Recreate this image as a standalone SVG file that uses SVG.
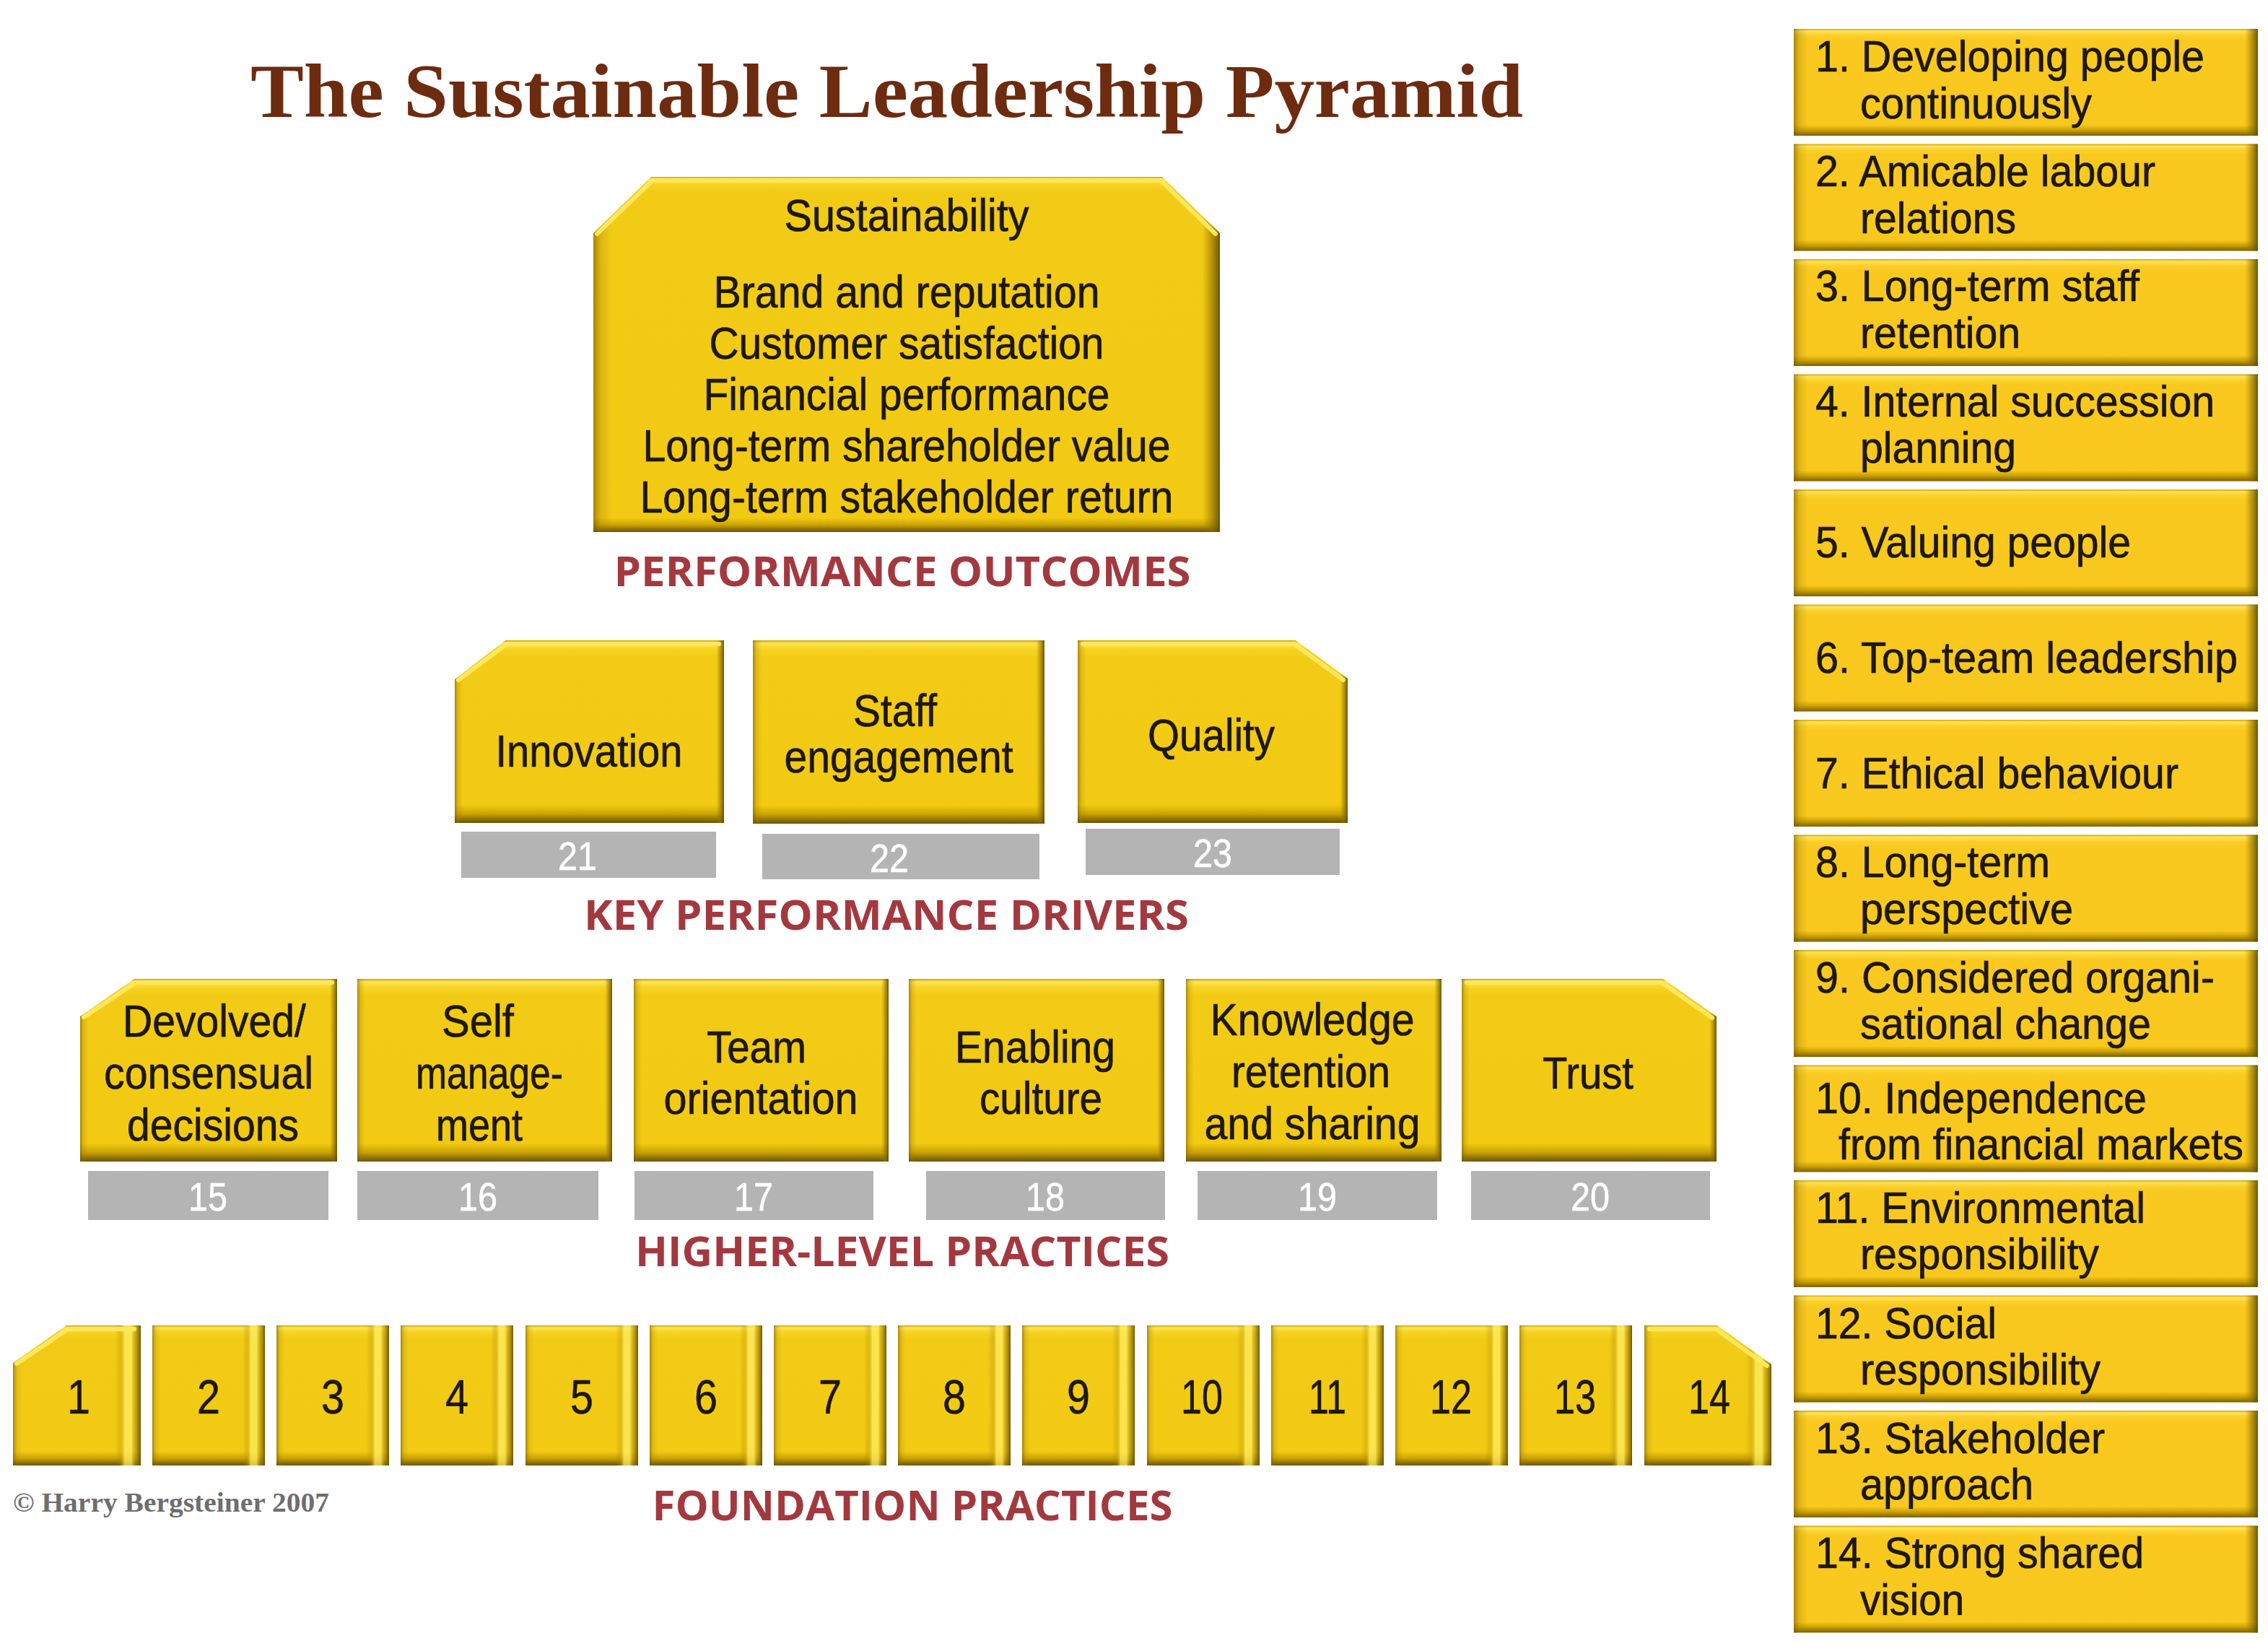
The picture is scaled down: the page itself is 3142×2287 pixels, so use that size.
<svg xmlns="http://www.w3.org/2000/svg" width="3142" height="2287" viewBox="0 0 3142 2287">
<defs>
<linearGradient id="gv" x1="0" y1="0" x2="0" y2="1">
<stop offset="0" stop-color="#c9a300"/>
<stop offset="0.015" stop-color="#fde452"/>
<stop offset="0.05" stop-color="#f6d322"/>
<stop offset="0.09" stop-color="#f2cb16"/>
<stop offset="0.9" stop-color="#f2ca14"/>
<stop offset="0.95" stop-color="#caa300"/>
<stop offset="0.98" stop-color="#8f7200"/>
<stop offset="1" stop-color="#6a5400"/>
</linearGradient>
<linearGradient id="gvBig" x1="0" y1="0" x2="0" y2="1">
<stop offset="0" stop-color="#c9a300"/>
<stop offset="0.006" stop-color="#fde452"/>
<stop offset="0.02" stop-color="#f6d322"/>
<stop offset="0.04" stop-color="#f2cb16"/>
<stop offset="0.96" stop-color="#f2ca14"/>
<stop offset="0.98" stop-color="#caa300"/>
<stop offset="0.992" stop-color="#8f7200"/>
<stop offset="1" stop-color="#6a5400"/>
</linearGradient>
<linearGradient id="gvR" x1="0" y1="0" x2="0" y2="1">
<stop offset="0" stop-color="#d2a600"/>
<stop offset="0.02" stop-color="#ffe25a"/>
<stop offset="0.06" stop-color="#fbd02a"/>
<stop offset="0.1" stop-color="#f9c91f"/>
<stop offset="0.9" stop-color="#f8c81e"/>
<stop offset="0.95" stop-color="#c99f00"/>
<stop offset="1" stop-color="#7a6000"/>
</linearGradient>
<linearGradient id="gh" x1="0" y1="0" x2="1" y2="0">
<stop offset="0" stop-color="#6e5500" stop-opacity="0.6"/>
<stop offset="0.012" stop-color="#9a7a00" stop-opacity="0.25"/>
<stop offset="0.03" stop-color="#9a7a00" stop-opacity="0"/>
<stop offset="0.972" stop-color="#9a7a00" stop-opacity="0"/>
<stop offset="0.986" stop-color="#8a6c00" stop-opacity="0.55"/>
<stop offset="1" stop-color="#5e4a00" stop-opacity="0.9"/>
</linearGradient>
<linearGradient id="ghF" x1="0" y1="0" x2="1" y2="0">
<stop offset="0" stop-color="#6e5500" stop-opacity="0.6"/>
<stop offset="0.03" stop-color="#9a7a00" stop-opacity="0.2"/>
<stop offset="0.07" stop-color="#9a7a00" stop-opacity="0"/>
<stop offset="0.8" stop-color="#9a7a00" stop-opacity="0"/>
<stop offset="0.84" stop-color="#b08c00" stop-opacity="0.3"/>
<stop offset="0.875" stop-color="#ffec60" stop-opacity="0.75"/>
<stop offset="0.925" stop-color="#ffec60" stop-opacity="0.75"/>
<stop offset="0.96" stop-color="#a88600" stop-opacity="0.55"/>
<stop offset="1" stop-color="#5e4a00" stop-opacity="0.9"/>
</linearGradient>
</defs>
<style>
.f{fill:url(#gv)}
.fb{fill:url(#gvBig)}
.fr{fill:url(#gvR)}
.e{fill:url(#gh)}
.ef{fill:url(#ghF)}
.hi{fill:none;stroke:#ffe75c;stroke-width:6;stroke-linecap:round;stroke-linejoin:round}
.bar{fill:#b4b4b4}
.t{font-family:"Liberation Sans",Arial,sans-serif;font-size:63px;fill:#1d1803;stroke:#1d1803;stroke-width:0.7px;text-anchor:middle}
.rt{font-family:"Liberation Sans",Arial,sans-serif;font-size:61px;fill:#1d1803;stroke:#1d1803;stroke-width:0.7px}
.n{font-family:"Liberation Sans",Arial,sans-serif;font-size:56px;fill:#ffffff;stroke:#ffffff;stroke-width:0.6px;text-anchor:middle}
.fn{font-family:"Liberation Sans",Arial,sans-serif;font-size:66px;fill:#1d1803;stroke:#1d1803;stroke-width:0.6px;text-anchor:middle}
.lbl{font-family:"Open Sans","Liberation Sans",sans-serif;font-weight:700;font-size:58px;fill:#a3393f;text-anchor:middle}
.title{font-family:"Liberation Serif","Times New Roman",serif;font-weight:700;font-size:106px;fill:#6d2b10}
.copy{font-family:"Liberation Serif","Times New Roman",serif;font-weight:700;font-size:37px;fill:#6e6e6e}
</style>
<rect x="0" y="0" width="3142" height="2287" fill="#ffffff"/>

<g id="title">
<text class="title" x="347" y="162" textLength="1763" lengthAdjust="spacingAndGlyphs">The Sustainable Leadership Pyramid</text>
</g>

<g id="connectors"></g>

<!-- Performance outcomes -->
<g id="node-outcomes">
<path class="fb" d="M822,323 L902,245 L1610,245 L1690,323 L1690,737 L822,737 Z"/>
<path class="e" d="M822,323 L902,245 L1610,245 L1690,323 L1690,737 L822,737 Z"/>
<path class="hi" d="M827,324 L904,250 L1608,250 L1684,324"/>
<text class="t" x="1256" y="320" textLength="339" lengthAdjust="spacingAndGlyphs">Sustainability</text>
<text class="t" x="1256" y="426" textLength="535" lengthAdjust="spacingAndGlyphs">Brand and reputation</text>
<text class="t" x="1256" y="497" textLength="547" lengthAdjust="spacingAndGlyphs">Customer satisfaction</text>
<text class="t" x="1256" y="568" textLength="563" lengthAdjust="spacingAndGlyphs">Financial performance</text>
<text class="t" x="1256" y="639" textLength="731" lengthAdjust="spacingAndGlyphs">Long-term shareholder value</text>
<text class="t" x="1256" y="710" textLength="739" lengthAdjust="spacingAndGlyphs">Long-term stakeholder return</text>
</g>
<text class="lbl" x="1250" y="812" textLength="799" lengthAdjust="spacingAndGlyphs">PERFORMANCE OUTCOMES</text>

<!-- Key performance drivers -->
<g id="node-21">
<path class="f" d="M630,941 L700,887 L1003,887 L1003,1140 L630,1140 Z"/>
<path class="e" d="M630,941 L700,887 L1003,887 L1003,1140 L630,1140 Z"/>
<path class="hi" d="M635,942 L702,892 L996,892"/>
<text class="t" x="816" y="1062" textLength="259" lengthAdjust="spacingAndGlyphs">Innovation</text>
<rect class="bar" x="639" y="1152" width="353" height="64"/>
<text class="n" x="800" y="1205" textLength="54" lengthAdjust="spacingAndGlyphs">21</text>
</g>
<g id="node-22">
<path class="f" d="M1043,887 L1447,887 L1447,1141 L1043,1141 Z"/>
<path class="e" d="M1043,887 L1447,887 L1447,1141 L1043,1141 Z"/>
<text class="t" x="1240" y="1006" textLength="116" lengthAdjust="spacingAndGlyphs">Staff</text>
<text class="t" x="1245" y="1070" textLength="317" lengthAdjust="spacingAndGlyphs">engagement</text>
<rect class="bar" x="1056" y="1155" width="384" height="63"/>
<text class="n" x="1232" y="1208" textLength="54" lengthAdjust="spacingAndGlyphs">22</text>
</g>
<g id="node-23">
<path class="f" d="M1493,887 L1795,887 L1867,940 L1867,1140 L1493,1140 Z"/>
<path class="e" d="M1493,887 L1795,887 L1867,940 L1867,1140 L1493,1140 Z"/>
<path class="hi" d="M1500,892 L1793,892 L1861,942"/>
<text class="t" x="1678" y="1040" textLength="176" lengthAdjust="spacingAndGlyphs">Quality</text>
<rect class="bar" x="1504" y="1148" width="352" height="64"/>
<text class="n" x="1680" y="1201" textLength="54" lengthAdjust="spacingAndGlyphs">23</text>
</g>
<text class="lbl" x="1228" y="1288" textLength="838" lengthAdjust="spacingAndGlyphs">KEY PERFORMANCE DRIVERS</text>

<!-- Higher-level practices -->
<g id="node-15">
<path class="f" d="M111,1408 L186,1356 L467,1356 L467,1609 L111,1609 Z"/>
<path class="e" d="M111,1408 L186,1356 L467,1356 L467,1609 L111,1609 Z"/>
<path class="hi" d="M116,1409 L188,1361 L460,1361"/>
<text class="t" x="297" y="1436" textLength="254" lengthAdjust="spacingAndGlyphs">Devolved/</text>
<text class="t" x="289" y="1508" textLength="290" lengthAdjust="spacingAndGlyphs">consensual</text>
<text class="t" x="295" y="1580" textLength="238" lengthAdjust="spacingAndGlyphs">decisions</text>
<rect class="bar" x="122" y="1622" width="333" height="68"/>
<text class="n" x="288" y="1677" textLength="54" lengthAdjust="spacingAndGlyphs">15</text>
</g>
<g id="node-16">
<path class="f" d="M495,1356 L848,1356 L848,1609 L495,1609 Z"/>
<path class="e" d="M495,1356 L848,1356 L848,1609 L495,1609 Z"/>
<text class="t" x="662" y="1436" textLength="100" lengthAdjust="spacingAndGlyphs">Self</text>
<text class="t" x="678" y="1508" textLength="204" lengthAdjust="spacingAndGlyphs">manage-</text>
<text class="t" x="664" y="1580" textLength="120" lengthAdjust="spacingAndGlyphs">ment</text>
<rect class="bar" x="495" y="1622" width="334" height="68"/>
<text class="n" x="662" y="1677" textLength="54" lengthAdjust="spacingAndGlyphs">16</text>
</g>
<g id="node-17">
<path class="f" d="M878,1356 L1231,1356 L1231,1609 L878,1609 Z"/>
<path class="e" d="M878,1356 L1231,1356 L1231,1609 L878,1609 Z"/>
<text class="t" x="1048" y="1472" textLength="138" lengthAdjust="spacingAndGlyphs">Team</text>
<text class="t" x="1054" y="1543" textLength="269" lengthAdjust="spacingAndGlyphs">orientation</text>
<rect class="bar" x="879" y="1622" width="331" height="68"/>
<text class="n" x="1044" y="1677" textLength="54" lengthAdjust="spacingAndGlyphs">17</text>
</g>
<g id="node-18">
<path class="f" d="M1259,1356 L1613,1356 L1613,1609 L1259,1609 Z"/>
<path class="e" d="M1259,1356 L1613,1356 L1613,1609 L1259,1609 Z"/>
<text class="t" x="1434" y="1472" textLength="222" lengthAdjust="spacingAndGlyphs">Enabling</text>
<text class="t" x="1442" y="1543" textLength="170" lengthAdjust="spacingAndGlyphs">culture</text>
<rect class="bar" x="1283" y="1622" width="331" height="68"/>
<text class="n" x="1448" y="1677" textLength="54" lengthAdjust="spacingAndGlyphs">18</text>
</g>
<g id="node-19">
<path class="f" d="M1643,1356 L1997,1356 L1997,1609 L1643,1609 Z"/>
<path class="e" d="M1643,1356 L1997,1356 L1997,1609 L1643,1609 Z"/>
<text class="t" x="1818" y="1434" textLength="283" lengthAdjust="spacingAndGlyphs">Knowledge</text>
<text class="t" x="1816" y="1506" textLength="220" lengthAdjust="spacingAndGlyphs">retention</text>
<text class="t" x="1818" y="1578" textLength="299" lengthAdjust="spacingAndGlyphs">and sharing</text>
<rect class="bar" x="1659" y="1622" width="332" height="68"/>
<text class="n" x="1825" y="1677" textLength="54" lengthAdjust="spacingAndGlyphs">19</text>
</g>
<g id="node-20">
<path class="f" d="M2025,1356 L2304,1356 L2378,1408 L2378,1609 L2025,1609 Z"/>
<path class="e" d="M2025,1356 L2304,1356 L2378,1408 L2378,1609 L2025,1609 Z"/>
<path class="hi" d="M2032,1361 L2302,1361 L2372,1410"/>
<text class="t" x="2200" y="1508" textLength="126" lengthAdjust="spacingAndGlyphs">Trust</text>
<rect class="bar" x="2038" y="1622" width="331" height="68"/>
<text class="n" x="2203" y="1677" textLength="54" lengthAdjust="spacingAndGlyphs">20</text>
</g>
<text class="lbl" x="1250" y="1754" textLength="740" lengthAdjust="spacingAndGlyphs">HIGHER-LEVEL PRACTICES</text>

<!-- Foundation practices -->
<g id="node-f1">
<path class="f" d="M18,1888 L92,1836 L195,1836 L195,2030 L18,2030 Z"/>
<path class="ef" d="M18,1888 L92,1836 L195,1836 L195,2030 L18,2030 Z"/>
<path class="hi" d="M23,1889 L94,1841 L186,1841"/>
<text class="fn" x="109" y="1958" textLength="32" lengthAdjust="spacingAndGlyphs">1</text>
</g>
<g id="node-f2"><path class="f" d="M211,1836 H367 V2030 H211 Z"/><path class="ef" d="M211,1836 H367 V2030 H211 Z"/><text class="fn" x="289" y="1958" textLength="32" lengthAdjust="spacingAndGlyphs">2</text></g>
<g id="node-f3"><path class="f" d="M383,1836 H539 V2030 H383 Z"/><path class="ef" d="M383,1836 H539 V2030 H383 Z"/><text class="fn" x="461" y="1958" textLength="32" lengthAdjust="spacingAndGlyphs">3</text></g>
<g id="node-f4"><path class="f" d="M555,1836 H711 V2030 H555 Z"/><path class="ef" d="M555,1836 H711 V2030 H555 Z"/><text class="fn" x="633" y="1958" textLength="32" lengthAdjust="spacingAndGlyphs">4</text></g>
<g id="node-f5"><path class="f" d="M728,1836 H884 V2030 H728 Z"/><path class="ef" d="M728,1836 H884 V2030 H728 Z"/><text class="fn" x="806" y="1958" textLength="32" lengthAdjust="spacingAndGlyphs">5</text></g>
<g id="node-f6"><path class="f" d="M900,1836 H1056 V2030 H900 Z"/><path class="ef" d="M900,1836 H1056 V2030 H900 Z"/><text class="fn" x="978" y="1958" textLength="32" lengthAdjust="spacingAndGlyphs">6</text></g>
<g id="node-f7"><path class="f" d="M1072,1836 H1228 V2030 H1072 Z"/><path class="ef" d="M1072,1836 H1228 V2030 H1072 Z"/><text class="fn" x="1150" y="1958" textLength="32" lengthAdjust="spacingAndGlyphs">7</text></g>
<g id="node-f8"><path class="f" d="M1244,1836 H1400 V2030 H1244 Z"/><path class="ef" d="M1244,1836 H1400 V2030 H1244 Z"/><text class="fn" x="1322" y="1958" textLength="32" lengthAdjust="spacingAndGlyphs">8</text></g>
<g id="node-f9"><path class="f" d="M1416,1836 H1572 V2030 H1416 Z"/><path class="ef" d="M1416,1836 H1572 V2030 H1416 Z"/><text class="fn" x="1494" y="1958" textLength="32" lengthAdjust="spacingAndGlyphs">9</text></g>
<g id="node-f10"><path class="f" d="M1589,1836 H1745 V2030 H1589 Z"/><path class="ef" d="M1589,1836 H1745 V2030 H1589 Z"/><text class="fn" x="1665" y="1958" textLength="58" lengthAdjust="spacingAndGlyphs">10</text></g>
<g id="node-f11"><path class="f" d="M1761,1836 H1917 V2030 H1761 Z"/><path class="ef" d="M1761,1836 H1917 V2030 H1761 Z"/><text class="fn" x="1839" y="1958" textLength="52" lengthAdjust="spacingAndGlyphs">11</text></g>
<g id="node-f12"><path class="f" d="M1933,1836 H2089 V2030 H1933 Z"/><path class="ef" d="M1933,1836 H2089 V2030 H1933 Z"/><text class="fn" x="2010" y="1958" textLength="58" lengthAdjust="spacingAndGlyphs">12</text></g>
<g id="node-f13"><path class="f" d="M2105,1836 H2261 V2030 H2105 Z"/><path class="ef" d="M2105,1836 H2261 V2030 H2105 Z"/><text class="fn" x="2182" y="1958" textLength="58" lengthAdjust="spacingAndGlyphs">13</text></g>
<g id="node-f14">
<path class="f" d="M2278,1836 L2379,1836 L2454,1890 L2454,2030 L2278,2030 Z"/>
<path class="ef" d="M2278,1836 L2379,1836 L2454,1890 L2454,2030 L2278,2030 Z"/>
<path class="hi" d="M2285,1841 L2377,1841 L2448,1892"/>
<text class="fn" x="2368" y="1958" textLength="58" lengthAdjust="spacingAndGlyphs">14</text>
</g>
<text class="lbl" x="1264" y="2106" textLength="721" lengthAdjust="spacingAndGlyphs">FOUNDATION PRACTICES</text>
<text class="copy" x="18" y="2094" textLength="438" lengthAdjust="spacingAndGlyphs">© Harry Bergsteiner 2007</text>

<!-- Right column legend -->
<g id="legend-1"><path class="fr" d="M2485,40 H3128 V188 H2485 Z"/><path class="e" d="M2485,40 H3128 V188 H2485 Z"/>
<text class="rt" x="2515" y="99" textLength="539" lengthAdjust="spacingAndGlyphs">1. Developing people</text>
<text class="rt" x="2577" y="164" textLength="321" lengthAdjust="spacingAndGlyphs">continuously</text></g>
<g id="legend-2"><path class="fr" d="M2485,199.5 H3128 V347.5 H2485 Z"/><path class="e" d="M2485,199.5 H3128 V347.5 H2485 Z"/>
<text class="rt" x="2515" y="258" textLength="471" lengthAdjust="spacingAndGlyphs">2. Amicable labour</text>
<text class="rt" x="2577" y="323" textLength="216" lengthAdjust="spacingAndGlyphs">relations</text></g>
<g id="legend-3"><path class="fr" d="M2485,359 H3128 V507 H2485 Z"/><path class="e" d="M2485,359 H3128 V507 H2485 Z"/>
<text class="rt" x="2515" y="417" textLength="449" lengthAdjust="spacingAndGlyphs">3. Long-term staff</text>
<text class="rt" x="2577" y="482" textLength="222" lengthAdjust="spacingAndGlyphs">retention</text></g>
<g id="legend-4"><path class="fr" d="M2485,518.5 H3128 V666.5 H2485 Z"/><path class="e" d="M2485,518.5 H3128 V666.5 H2485 Z"/>
<text class="rt" x="2515" y="577" textLength="553" lengthAdjust="spacingAndGlyphs">4. Internal succession</text>
<text class="rt" x="2577" y="641" textLength="216" lengthAdjust="spacingAndGlyphs">planning</text></g>
<g id="legend-5"><path class="fr" d="M2485,678 H3128 V826 H2485 Z"/><path class="e" d="M2485,678 H3128 V826 H2485 Z"/>
<text class="rt" x="2515" y="772" textLength="437" lengthAdjust="spacingAndGlyphs">5. Valuing people</text></g>
<g id="legend-6"><path class="fr" d="M2485,837.5 H3128 V985.5 H2485 Z"/><path class="e" d="M2485,837.5 H3128 V985.5 H2485 Z"/>
<text class="rt" x="2515" y="932" textLength="585" lengthAdjust="spacingAndGlyphs">6. Top-team leadership</text></g>
<g id="legend-7"><path class="fr" d="M2485,997 H3128 V1145 H2485 Z"/><path class="e" d="M2485,997 H3128 V1145 H2485 Z"/>
<text class="rt" x="2515" y="1092" textLength="503" lengthAdjust="spacingAndGlyphs">7. Ethical behaviour</text></g>
<g id="legend-8"><path class="fr" d="M2485,1156.5 H3128 V1304.5 H2485 Z"/><path class="e" d="M2485,1156.5 H3128 V1304.5 H2485 Z"/>
<text class="rt" x="2515" y="1215" textLength="325" lengthAdjust="spacingAndGlyphs">8. Long-term</text>
<text class="rt" x="2577" y="1280" textLength="295" lengthAdjust="spacingAndGlyphs">perspective</text></g>
<g id="legend-9"><path class="fr" d="M2485,1316 H3128 V1464 H2485 Z"/><path class="e" d="M2485,1316 H3128 V1464 H2485 Z"/>
<text class="rt" x="2515" y="1375" textLength="553" lengthAdjust="spacingAndGlyphs">9. Considered organi-</text>
<text class="rt" x="2577" y="1439" textLength="403" lengthAdjust="spacingAndGlyphs">sational change</text></g>
<g id="legend-10"><path class="fr" d="M2485,1475.5 H3128 V1623.5 H2485 Z"/><path class="e" d="M2485,1475.5 H3128 V1623.5 H2485 Z"/>
<text class="rt" x="2515" y="1542" textLength="459" lengthAdjust="spacingAndGlyphs">10. Independence</text>
<text class="rt" x="2547" y="1606" textLength="561" lengthAdjust="spacingAndGlyphs">from financial markets</text></g>
<g id="legend-11"><path class="fr" d="M2485,1635 H3128 V1783 H2485 Z"/><path class="e" d="M2485,1635 H3128 V1783 H2485 Z"/>
<text class="rt" x="2515" y="1694" textLength="457" lengthAdjust="spacingAndGlyphs">11. Environmental</text>
<text class="rt" x="2577" y="1758" textLength="331" lengthAdjust="spacingAndGlyphs">responsibility</text></g>
<g id="legend-12"><path class="fr" d="M2485,1794.5 H3128 V1942.5 H2485 Z"/><path class="e" d="M2485,1794.5 H3128 V1942.5 H2485 Z"/>
<text class="rt" x="2515" y="1854" textLength="251" lengthAdjust="spacingAndGlyphs">12. Social</text>
<text class="rt" x="2577" y="1918" textLength="333" lengthAdjust="spacingAndGlyphs">responsibility</text></g>
<g id="legend-13"><path class="fr" d="M2485,1954 H3128 V2102 H2485 Z"/><path class="e" d="M2485,1954 H3128 V2102 H2485 Z"/>
<text class="rt" x="2515" y="2013" textLength="401" lengthAdjust="spacingAndGlyphs">13. Stakeholder</text>
<text class="rt" x="2577" y="2077" textLength="240" lengthAdjust="spacingAndGlyphs">approach</text></g>
<g id="legend-14"><path class="fr" d="M2485,2113.5 H3128 V2261.5 H2485 Z"/><path class="e" d="M2485,2113.5 H3128 V2261.5 H2485 Z"/>
<text class="rt" x="2515" y="2172" textLength="455" lengthAdjust="spacingAndGlyphs">14. Strong shared</text>
<text class="rt" x="2577" y="2237" textLength="144" lengthAdjust="spacingAndGlyphs">vision</text></g>
</svg>
